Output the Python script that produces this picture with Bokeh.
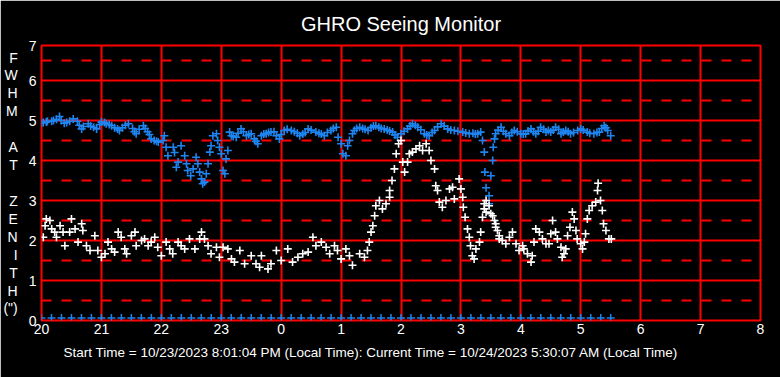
from bokeh.plotting import figure
from bokeh.models import FixedTicker, Range1d, Title
from bokeh.embed import file_html
from bokeh.resources import INLINE

# ---- data (hours since 20:00 expressed as 20..32, FWHM arcsec) ----
blue_x = [20.03, 20.10, 20.20, 20.30, 20.38, 20.53, 20.60, 20.67, 20.78, 20.92,
          21.00, 21.08, 21.17, 21.30, 21.45, 21.52, 21.58, 21.70, 21.77, 21.83,
          21.95, 22.03, 22.05, 22.08, 22.11, 22.20, 22.22, 22.25, 22.28, 22.33,
          22.39, 22.42, 22.44, 22.49, 22.53, 22.58, 22.61, 22.64, 22.67, 22.69,
          22.72, 22.75, 22.78, 22.81, 22.83, 22.86, 22.92, 22.94, 22.97, 23.00,
          23.03, 23.06, 23.08, 23.11, 23.14, 23.17, 23.25, 23.33, 23.42, 23.50,
          23.55, 23.61, 23.67, 23.75, 23.83, 23.97, 24.05, 24.17, 24.31, 24.45,
          24.58, 24.72, 24.83, 24.92, 24.95, 25.00, 25.03, 25.08, 25.11, 25.14,
          25.19, 25.31, 25.45, 25.58, 25.72, 25.86, 25.94, 26.00, 26.11, 26.19,
          26.28, 26.39, 26.47, 26.56, 26.67, 26.78, 26.89, 27.03, 27.14, 27.28,
          27.33, 27.36, 27.39, 27.40, 27.42, 27.47, 27.47, 27.50, 27.53, 27.54,
          27.56, 27.58, 27.67, 27.75, 27.81, 27.89, 28.00, 28.08, 28.17, 28.25,
          28.33, 28.42, 28.50, 28.58, 28.67, 28.75, 28.83, 28.95, 29.00, 29.11,
          29.22, 29.31, 29.39, 29.45, 29.50,
          # extra readings along the dense band
          20.00, 20.08, 20.17, 20.25, 20.33, 20.42, 20.47, 20.63, 20.70, 20.82,
          20.87, 20.97, 21.05, 21.13, 21.22, 21.27, 21.35, 21.40, 21.55, 21.63,
          21.73, 21.80, 21.88, 21.92, 23.20, 23.28, 23.37, 23.46, 23.58, 23.71,
          23.79, 23.88, 23.92, 24.00, 24.10, 24.22, 24.27, 24.36, 24.40, 24.50,
          24.63, 24.67, 24.77, 24.87, 25.22, 25.26, 25.36, 25.40, 25.50, 25.54,
          25.63, 25.67, 25.77, 25.81, 25.90, 26.05, 26.15, 26.24, 26.33, 26.43,
          26.52, 26.61, 26.72, 26.83, 26.95, 27.08, 27.20, 27.24, 27.62, 27.71,
          27.85, 27.94, 28.04, 28.12, 28.21, 28.29, 28.38, 28.46, 28.54, 28.63,
          28.71, 28.79, 28.88, 29.04, 29.15, 29.27, 29.35, 29.42]
blue_y = [4.95, 4.98, 5.00, 5.10, 4.93, 5.04, 4.98, 4.79, 4.92, 4.79,
          4.96, 4.92, 4.87, 4.75, 4.92, 4.80, 4.67, 4.87, 4.72, 4.54,
          4.46, 4.50, 4.62, 4.33, 4.12, 4.33, 4.20, 3.83, 3.96, 4.37,
          4.12, 3.92, 3.75, 3.62, 3.79, 4.08, 3.92, 3.71, 3.54, 3.42,
          3.46, 3.67, 3.92, 4.21, 4.37, 4.62, 4.67, 4.50, 4.33, 4.17,
          3.75, 3.67, 4.04, 4.25, 4.71, 4.62, 4.58, 4.79, 4.62, 4.67,
          4.54, 4.42, 4.62, 4.67, 4.71, 4.54, 4.75, 4.75, 4.62, 4.79,
          4.71, 4.62, 4.75, 4.83, 4.58, 4.42, 4.17, 4.12, 4.37, 4.50,
          4.67, 4.83, 4.75, 4.87, 4.79, 4.71, 4.58, 4.67, 4.79, 4.92,
          4.83, 4.67, 4.62, 4.75, 4.92, 4.79, 4.75, 4.71, 4.67, 4.67,
          4.71, 4.50, 4.21, 3.71, 3.32, 3.12, 2.92, 3.62, 4.00, 4.33,
          4.54, 4.67, 4.83, 4.67, 4.62, 4.75, 4.67, 4.67, 4.79, 4.67,
          4.83, 4.71, 4.71, 4.83, 4.67, 4.75, 4.67, 4.75, 4.79, 4.71,
          4.67, 4.71, 4.87, 4.75, 4.62,
          4.94, 4.96, 4.98, 5.03, 5.00, 4.95, 4.98, 4.88, 4.85, 4.86,
          4.83, 4.90, 4.95, 4.90, 4.82, 4.79, 4.82, 4.88, 4.72, 4.78,
          4.80, 4.65, 4.50, 4.48, 4.60, 4.68, 4.72, 4.65, 4.48, 4.66,
          4.70, 4.72, 4.62, 4.65, 4.78, 4.72, 4.68, 4.66, 4.70, 4.76,
          4.68, 4.66, 4.70, 4.80, 4.75, 4.80, 4.80, 4.78, 4.82, 4.86,
          4.83, 4.80, 4.76, 4.74, 4.64, 4.73, 4.86, 4.88, 4.77, 4.64,
          4.70, 4.84, 4.86, 4.76, 4.73, 4.69, 4.68, 4.66, 4.76, 4.73,
          4.70, 4.72, 4.66, 4.74, 4.72, 4.73, 4.78, 4.75, 4.76, 4.78,
          4.71, 4.72, 4.70, 4.76, 4.68, 4.70, 4.80, 4.82]

white_x = [20.03, 20.06, 20.08, 20.14, 20.17, 20.22, 20.25, 20.31, 20.36, 20.39,
           20.47, 20.50, 20.56, 20.61, 20.67, 20.69, 20.75, 20.81, 20.89, 20.94,
           21.00, 21.06, 21.11, 21.17, 21.22, 21.28, 21.33, 21.39, 21.42, 21.50,
           21.56, 21.58, 21.67, 21.72, 21.78, 21.83, 21.89, 21.94, 22.00, 22.08,
           22.14, 22.19, 22.28, 22.33, 22.39, 22.47, 22.56, 22.64, 22.67, 22.72,
           22.78, 22.83, 22.92, 22.97, 23.03, 23.11, 23.17, 23.22, 23.31, 23.39,
           23.50, 23.58, 23.64, 23.67, 23.78, 23.83, 23.92, 24.00, 24.11, 24.19,
           24.28, 24.36, 24.45, 24.53, 24.58, 24.67, 24.75, 24.81, 24.89, 24.94,
           25.00, 25.08, 25.14, 25.19, 25.31, 25.39, 25.44, 25.47, 25.50, 25.53,
           25.56, 25.58, 25.64, 25.69, 25.75, 25.81, 25.81, 25.85, 25.89, 25.92,
           25.96, 26.00, 26.03, 26.06, 26.11, 26.14, 26.19, 26.25, 26.31, 26.36,
           26.42, 26.47, 26.50, 26.56, 26.58, 26.61, 26.64, 26.69, 26.75, 26.81,
           26.86, 26.89, 26.97, 27.00, 27.03, 27.04, 27.07, 27.11, 27.14, 27.16,
           27.19, 27.22, 27.25, 27.31, 27.33, 27.36, 27.39, 27.39, 27.42, 27.42,
           27.47, 27.50, 27.53, 27.56, 27.58, 27.58, 27.61, 27.64, 27.64, 27.69,
           27.75, 27.81, 27.86, 27.92, 27.97, 28.03, 28.05, 28.11, 28.17, 28.19,
           28.22, 28.25, 28.31, 28.36, 28.42, 28.47, 28.50, 28.53, 28.58, 28.61,
           28.67, 28.69, 28.72, 28.75, 28.78, 28.82, 28.86, 28.89, 28.92, 28.94,
           29.00, 29.03, 29.06, 29.08, 29.11, 29.14, 29.19, 29.25, 29.28, 29.29,
           29.33, 29.36, 29.38, 29.42, 29.47, 29.51]
white_y = [2.08, 2.37, 2.54, 2.50, 2.29, 2.21, 2.08, 2.37, 2.21, 1.87,
           2.21, 2.54, 2.29, 1.96, 2.42, 2.25, 1.87, 1.75, 2.12, 1.75,
           1.58, 1.67, 1.96, 1.79, 1.71, 2.21, 2.08, 1.79, 1.67, 2.12,
           2.21, 1.87, 2.00, 2.04, 1.87, 1.96, 2.08, 1.83, 1.62, 1.96,
           1.79, 1.67, 1.96, 1.87, 1.79, 2.04, 1.79, 2.04, 2.21, 2.04,
           1.87, 1.67, 1.83, 1.58, 1.83, 1.79, 1.54, 1.46, 1.75, 1.42,
           1.62, 1.42, 1.33, 1.62, 1.29, 1.42, 1.75, 1.50, 1.79, 1.46,
           1.58, 1.67, 1.71, 2.08, 1.87, 1.96, 1.83, 1.67, 1.87, 1.75,
           1.54, 1.79, 1.62, 1.38, 1.67, 1.58, 1.75, 1.96, 2.21, 2.37,
           2.62, 2.87, 3.00, 2.79, 2.92, 3.08, 3.25, 3.50, 3.79, 4.17,
           4.42, 4.50, 3.96, 3.71, 3.96, 4.17, 4.21, 4.29, 4.37, 4.25,
           4.42, 4.25, 4.00, 3.79, 3.37, 3.25, 2.96, 2.83, 3.00, 3.29,
           3.33, 3.04, 3.54, 3.29, 3.08, 2.83, 2.58, 2.29, 2.08, 1.87,
           1.62, 1.54, 1.79, 1.96, 2.21, 2.58, 2.79, 2.92, 3.00, 2.71,
           2.87, 2.67, 2.62, 2.50, 2.42, 2.33, 2.25, 2.12, 2.04, 2.00,
           1.92, 2.08, 2.21, 1.92, 1.75, 1.87, 1.79, 1.67, 1.46, 1.62,
           1.96, 2.29, 2.21, 2.04, 1.92, 1.92, 2.17, 2.50, 2.21, 2.04,
           1.83, 1.58, 1.67, 1.79, 2.12, 2.33, 2.71, 2.54, 2.25, 2.04,
           1.92, 1.79, 1.96, 2.17, 2.54, 2.75, 2.87, 2.96, 3.25, 3.43,
           3.00, 2.75, 2.42, 2.25, 2.04, 2.04]

# baseline markers: minutes after 20:00, drawn just above the zero line
base_minutes = [0, 10, 20, 30, 40, 50, 60, 70, 80, 90, 100, 110, 120, 130, 140,
                150, 160, 170, 180, 190, 200, 210, 220, 230, 240, 250, 260, 270,
                280, 290, 300, 310, 320, 330, 340, 350, 360, 370, 380, 390, 400,
                410, 420, 430, 440, 450, 460, 470, 480, 490, 500, 510, 520, 530,
                540, 550, 560, 570]
base_y = [0.06] * len(base_minutes)

x_ticks = [20, 21, 22, 23, 24, 25, 26, 27, 28, 29, 30, 31, 32]
x_tick_labels = ["20", "21", "22", "23", "0", "1", "2", "3", "4", "5", "6", "7", "8"]
y_ticks = [0, 1, 2, 3, 4, 5, 6, 6.875]
y_tick_labels = ["0", "1", "2", "3", "4", "5", "6", "7"]
y_half = [0.5, 1.5, 2.5, 3.5, 4.5, 5.5, 6.5]

title_text = "GHRO Seeing Monitor"
footer_text = ("Start Time = 10/23/2023 8:01:04 PM (Local Time): "
               "Current Time =  10/24/2023 5:30:07 AM (Local Time)")
y_label_text = "F\nW\nH\nM\n\nA\nT\n\nZ\nE\nN\nI\nT\nH\n(\")"

FONT = "Liberation Sans"
RED = "#ff0000"
BLUE = "#1e84f0"

p = figure(width=780, height=377, output_backend="svg", toolbar_location=None,
           x_range=Range1d(20, 32), y_range=Range1d(0, 6.875),
           min_border_left=40, min_border_right=20, min_border_top=45,
           min_border_bottom=57, background_fill_color="black",
           border_fill_color="black", outline_line_color=RED,
           outline_line_width=2)

p.title.text = title_text
p.title.align = "center"
p.title.text_color = "white"
p.title.text_font = FONT
p.title.text_font_size = "20px"
p.title.text_font_style = "normal"
p.title.standoff = 21

# axes
p.xaxis.ticker = FixedTicker(ticks=x_ticks)
p.xaxis.major_label_overrides = {t: l for t, l in zip(x_ticks, x_tick_labels)}
p.yaxis.ticker = FixedTicker(ticks=y_ticks, minor_ticks=y_half)
p.yaxis.major_label_overrides = {t: l for t, l in zip(y_ticks, y_tick_labels)}
for ax in (p.xaxis[0], p.yaxis[0]):
    ax.axis_line_color = None
    ax.major_tick_line_color = None
    ax.minor_tick_line_color = None
    ax.major_tick_in = 0
    ax.major_tick_out = 0
    ax.minor_tick_in = 0
    ax.minor_tick_out = 0
    ax.major_label_text_color = "white"
    ax.major_label_text_font = FONT
    ax.major_label_text_font_size = "14px"
    ax.axis_label_text_color = "white"
    ax.axis_label_text_font = FONT
    ax.axis_label_text_font_style = "normal"
p.xaxis.major_label_standoff = 3
p.yaxis.major_label_standoff = 5
p.yaxis.axis_label = y_label_text
p.yaxis.axis_label_orientation = "horizontal"
p.yaxis.axis_label_text_font_size = "14px"
p.yaxis.axis_label_text_line_height = 1.12
p.yaxis.axis_label_standoff = 8
p.yaxis.axis_label_text_align = "center"

# footer line below the x axis labels
footer = Title(text=footer_text, align="left", offset=22, standoff=13,
               text_color="white", text_font=FONT, text_font_size="13.5px",
               text_font_style="normal")
p.add_layout(footer, "below")

# grids
p.xgrid.ticker = FixedTicker(ticks=x_ticks)
p.xgrid.grid_line_color = RED
p.xgrid.grid_line_width = 2
p.ygrid.ticker = FixedTicker(ticks=y_ticks, minor_ticks=y_half)
p.ygrid.grid_line_color = RED
p.ygrid.grid_line_width = 2
p.ygrid.minor_grid_line_color = RED
p.ygrid.minor_grid_line_width = 2
p.ygrid.minor_grid_line_dash = "10 10"

# data
base_x = [20 + m / 60 for m in base_minutes]
p.scatter(x=base_x, y=base_y, marker="cross", size=8, line_color=BLUE,
          line_width=1.5)
p.scatter(x=blue_x, y=blue_y, marker="cross", size=8, line_color=BLUE,
          line_width=1.6)
p.scatter(x=white_x, y=white_y, marker="cross", size=8, line_color="white",
          line_width=1.6)

open("out.html", "w").write(file_html(p, INLINE))
